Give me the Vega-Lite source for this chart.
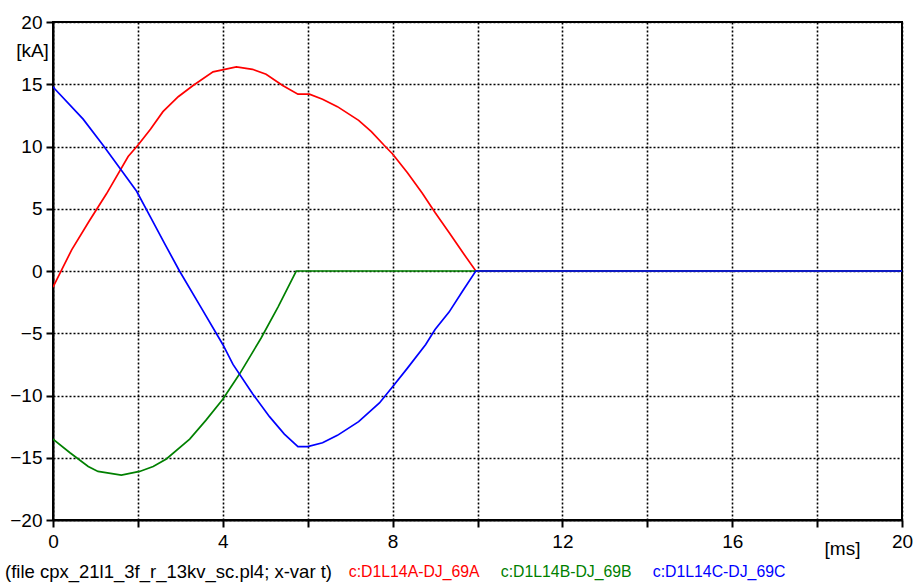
{
  "$schema": "https://vega.github.io/schema/vega-lite/v6.json",
  "width": 849,
  "height": 498,
  "padding": {"left": 53, "top": 22, "right": 14, "bottom": 66},
  "autosize": {"type": "none"},
  "background": "white",
  "config": {
    "font": "Liberation Sans",
    "view": {"stroke": "black", "strokeWidth": 2},
    "axis": {
      "labelFont": "Liberation Sans",
      "titleFont": "Liberation Sans",
      "labelFontSize": 19,
      "titleFontSize": 19,
      "labelColor": "black",
      "titleColor": "black",
      "titleFontWeight": "normal",
      "domainColor": "black",
      "domainWidth": 2,
      "tickColor": "black",
      "tickWidth": 2,
      "tickSize": 7,
      "gridColor": "black",
      "gridOpacity": 1,
      "gridWidth": 1.6,
      "gridDash": [2, 2]
    }
  },
  "data": {
    "values": [
      {"t": 0, "i": -1.3, "s": "c:D1L14A-DJ_69A"},
      {"t": 0.44, "i": 1.7, "s": "c:D1L14A-DJ_69A"},
      {"t": 0.85, "i": 4.0, "s": "c:D1L14A-DJ_69A"},
      {"t": 1.26, "i": 6.2, "s": "c:D1L14A-DJ_69A"},
      {"t": 1.77, "i": 9.2, "s": "c:D1L14A-DJ_69A"},
      {"t": 2.0, "i": 10.1, "s": "c:D1L14A-DJ_69A"},
      {"t": 2.3, "i": 11.4, "s": "c:D1L14A-DJ_69A"},
      {"t": 2.59, "i": 12.8, "s": "c:D1L14A-DJ_69A"},
      {"t": 2.95, "i": 14.0, "s": "c:D1L14A-DJ_69A"},
      {"t": 3.3, "i": 14.9, "s": "c:D1L14A-DJ_69A"},
      {"t": 3.77, "i": 16.0, "s": "c:D1L14A-DJ_69A"},
      {"t": 4.32, "i": 16.4, "s": "c:D1L14A-DJ_69A"},
      {"t": 4.7, "i": 16.2, "s": "c:D1L14A-DJ_69A"},
      {"t": 5.02, "i": 15.8, "s": "c:D1L14A-DJ_69A"},
      {"t": 5.41, "i": 14.9, "s": "c:D1L14A-DJ_69A"},
      {"t": 5.77, "i": 14.2, "s": "c:D1L14A-DJ_69A"},
      {"t": 6.04, "i": 14.2, "s": "c:D1L14A-DJ_69A"},
      {"t": 6.35, "i": 13.8, "s": "c:D1L14A-DJ_69A"},
      {"t": 6.7, "i": 13.2, "s": "c:D1L14A-DJ_69A"},
      {"t": 7.2, "i": 12.1, "s": "c:D1L14A-DJ_69A"},
      {"t": 7.5, "i": 11.2, "s": "c:D1L14A-DJ_69A"},
      {"t": 7.8, "i": 10.1, "s": "c:D1L14A-DJ_69A"},
      {"t": 8.0, "i": 9.4, "s": "c:D1L14A-DJ_69A"},
      {"t": 8.35, "i": 7.9, "s": "c:D1L14A-DJ_69A"},
      {"t": 8.7, "i": 6.25, "s": "c:D1L14A-DJ_69A"},
      {"t": 9.0, "i": 4.7, "s": "c:D1L14A-DJ_69A"},
      {"t": 9.33, "i": 3.1, "s": "c:D1L14A-DJ_69A"},
      {"t": 9.65, "i": 1.5, "s": "c:D1L14A-DJ_69A"},
      {"t": 9.96, "i": 0, "s": "c:D1L14A-DJ_69A"},
      {"t": 20, "i": 0, "s": "c:D1L14A-DJ_69A"},
      {"t": 0, "i": -13.5, "s": "c:D1L14B-DJ_69B"},
      {"t": 0.4, "i": -14.6, "s": "c:D1L14B-DJ_69B"},
      {"t": 0.83, "i": -15.7, "s": "c:D1L14B-DJ_69B"},
      {"t": 1.06, "i": -16.1, "s": "c:D1L14B-DJ_69B"},
      {"t": 1.61, "i": -16.4, "s": "c:D1L14B-DJ_69B"},
      {"t": 2.04, "i": -16.1, "s": "c:D1L14B-DJ_69B"},
      {"t": 2.36, "i": -15.7, "s": "c:D1L14B-DJ_69B"},
      {"t": 2.67, "i": -15.1, "s": "c:D1L14B-DJ_69B"},
      {"t": 3.22, "i": -13.5, "s": "c:D1L14B-DJ_69B"},
      {"t": 3.6, "i": -12.0, "s": "c:D1L14B-DJ_69B"},
      {"t": 4.0, "i": -10.3, "s": "c:D1L14B-DJ_69B"},
      {"t": 4.39, "i": -8.3, "s": "c:D1L14B-DJ_69B"},
      {"t": 4.9, "i": -5.4, "s": "c:D1L14B-DJ_69B"},
      {"t": 5.3, "i": -2.9, "s": "c:D1L14B-DJ_69B"},
      {"t": 5.73, "i": 0, "s": "c:D1L14B-DJ_69B"},
      {"t": 20, "i": 0, "s": "c:D1L14B-DJ_69B"},
      {"t": 0, "i": 14.8, "s": "c:D1L14C-DJ_69C"},
      {"t": 0.05, "i": 14.6, "s": "c:D1L14C-DJ_69C"},
      {"t": 0.71, "i": 12.2, "s": "c:D1L14C-DJ_69C"},
      {"t": 1.18, "i": 10.1, "s": "c:D1L14C-DJ_69C"},
      {"t": 1.61, "i": 8.1, "s": "c:D1L14C-DJ_69C"},
      {"t": 1.97, "i": 6.4, "s": "c:D1L14C-DJ_69C"},
      {"t": 2.3, "i": 4.3, "s": "c:D1L14C-DJ_69C"},
      {"t": 2.63, "i": 2.2, "s": "c:D1L14C-DJ_69C"},
      {"t": 2.98, "i": 0.0, "s": "c:D1L14C-DJ_69C"},
      {"t": 3.5, "i": -3.0, "s": "c:D1L14C-DJ_69C"},
      {"t": 4.0, "i": -5.9, "s": "c:D1L14C-DJ_69C"},
      {"t": 4.24, "i": -7.5, "s": "c:D1L14C-DJ_69C"},
      {"t": 4.71, "i": -9.9, "s": "c:D1L14C-DJ_69C"},
      {"t": 5.1, "i": -11.7, "s": "c:D1L14C-DJ_69C"},
      {"t": 5.45, "i": -13.1, "s": "c:D1L14C-DJ_69C"},
      {"t": 5.77, "i": -14.1, "s": "c:D1L14C-DJ_69C"},
      {"t": 6.0, "i": -14.1, "s": "c:D1L14C-DJ_69C"},
      {"t": 6.35, "i": -13.8, "s": "c:D1L14C-DJ_69C"},
      {"t": 6.7, "i": -13.2, "s": "c:D1L14C-DJ_69C"},
      {"t": 7.2, "i": -12.1, "s": "c:D1L14C-DJ_69C"},
      {"t": 7.69, "i": -10.6, "s": "c:D1L14C-DJ_69C"},
      {"t": 8.0, "i": -9.3, "s": "c:D1L14C-DJ_69C"},
      {"t": 8.35, "i": -7.8, "s": "c:D1L14C-DJ_69C"},
      {"t": 8.78, "i": -5.9, "s": "c:D1L14C-DJ_69C"},
      {"t": 9.0, "i": -4.7, "s": "c:D1L14C-DJ_69C"},
      {"t": 9.33, "i": -3.3, "s": "c:D1L14C-DJ_69C"},
      {"t": 9.65, "i": -1.6, "s": "c:D1L14C-DJ_69C"},
      {"t": 9.96, "i": 0, "s": "c:D1L14C-DJ_69C"},
      {"t": 20, "i": 0, "s": "c:D1L14C-DJ_69C"}
    ]
  },
  "mark": {"type": "line", "strokeWidth": 1.7, "clip": true},
  "encoding": {
    "x": {
      "field": "t",
      "type": "quantitative",
      "scale": {"domain": [0, 20], "nice": false, "zero": false},
      "axis": {
        "values": [0, 2, 4, 6, 8, 10, 12, 14, 16, 18, 20],
        "labelExpr": "datum.value % 4 == 0 ? datum.label : ''",
        "labelPadding": 5,
        "labelFlush": false,
        "labelOverlap": false,
        "title": "[ms]",
        "titleAnchor": null,
        "titleX": 789,
        "titleY": 28,
        "titleAlign": "center",
        "titleBaseline": "middle"
      }
    },
    "y": {
      "field": "i",
      "type": "quantitative",
      "scale": {"domain": [-20, 20], "nice": false, "zero": false},
      "axis": {
        "values": [-20, -15, -10, -5, 0, 5, 10, 15, 20],
        "labelPadding": 4,
        "labelFlush": false,
        "labelOverlap": false,
        "title": "[kA]",
        "titleAngle": 0,
        "titleAnchor": null,
        "titleX": -21,
        "titleY": 28,
        "titleAlign": "center",
        "titleBaseline": "middle"
      }
    },
    "color": {
      "field": "s",
      "type": "nominal",
      "scale": {
        "domain": ["c:D1L14A-DJ_69A", "c:D1L14B-DJ_69B", "c:D1L14C-DJ_69C"],
        "range": ["#ff0000", "#008000", "#0000ff"]
      },
      "legend": {
        "orient": "none",
        "legendX": -48,
        "legendY": 542,
        "direction": "horizontal",
        "title": "(file cpx_21l1_3f_r_13kv_sc.pl4; x-var t)",
        "titleOrient": "left",
        "titleFont": "Liberation Sans",
        "titleFontSize": 18.5,
        "titleFontWeight": "normal",
        "titleColor": "black",
        "titlePadding": 1,
        "titleLimit": 1000,
        "titleBaseline": "middle",
        "labelFont": "Liberation Sans",
        "labelFontSize": 15.8,
        "labelLimit": 1000,
        "labelOffset": 0,
        "symbolSize": 0,
        "symbolStrokeWidth": 0,
        "symbolOpacity": 0,
        "columnPadding": 5,
        "padding": 0,
        "encode": {
          "labels": {"update": {"fill": {"scale": "color", "field": "value"}}}
        }
      }
    }
  }
}
